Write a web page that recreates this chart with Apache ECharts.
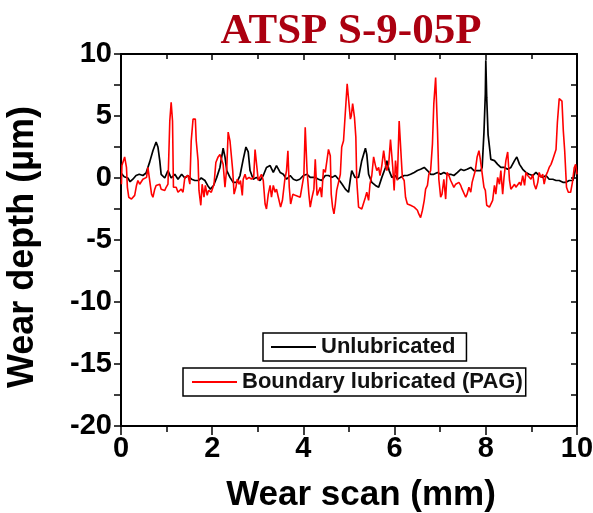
<!DOCTYPE html>
<html>
<head>
<meta charset="utf-8">
<script src="https://cdn.jsdelivr.net/npm/echarts@6/dist/echarts.min.js"></script>
<style>
  html, body { margin: 0; padding: 0; background: #fff; }
  #chart { width: 593px; height: 513px; }
</style>
</head>
<body>
<div id="chart"></div>
<script>
// wear scan profiles (x in mm, depth in µm)
var unlubX = [0.00,0.07,0.15,0.20,0.26,0.33,0.40,0.48,0.55,0.63,0.70,0.77,0.81,0.85,0.88,0.96,1.03,1.10,1.18,1.25,1.33,1.40,1.47,1.55,1.62,1.70,1.76,1.84,1.90,1.96,
  2.03,2.10,2.17,2.24,2.28,2.32,2.39,2.46,2.54,2.61,2.68,2.74,2.79,2.83,2.90,2.97,3.05,3.12,3.19,3.27,3.34,3.41,3.49,3.56,3.63,3.71,3.78,3.85,3.92,4.00,
  4.08,4.15,4.26,4.33,4.40,4.48,4.55,4.63,4.70,4.77,4.85,4.92,4.99,5.03,5.06,5.13,5.21,5.28,5.36,5.39,5.43,5.50,5.58,5.65,5.72,5.80,5.83,5.88,5.94,6.02,
  6.06,6.13,6.21,6.28,6.35,6.43,6.50,6.57,6.65,6.72,6.79,6.86,6.94,7.01,7.08,7.15,7.23,7.30,7.38,7.45,7.52,7.59,7.67,7.74,7.81,7.89,7.92,7.96,7.99,8.00,
  8.02,8.05,8.09,8.11,8.19,8.26,8.33,8.41,8.48,8.55,8.63,8.68,8.74,8.81,8.88,8.95,9.03,9.10,9.17,9.25,9.32,9.39,9.47,9.54,9.61,9.69,9.76,9.83,9.91,9.94,9.98];
var unlubY = [0.4,0.1,0.0,-0.3,-0.1,0.2,0.3,0.2,0.4,1.3,2.2,2.9,2.5,1.4,0.3,0.0,0.6,0.0,0.3,-0.1,0.3,0.0,0.2,-0.1,-0.2,-0.2,0.0,-0.2,-0.6,-0.9,
  -0.6,0.05,0.85,2.4,1.7,0.6,0.05,-0.35,-0.35,0.2,1.5,2.5,2.1,0.6,-0.1,0.05,-0.2,0.2,0.85,1.0,0.45,1.0,0.45,0.3,-0.1,0.2,-0.1,-0.2,-0.1,0.2,
  0.3,0.05,0.05,-0.1,-0.2,0.2,0.2,0.05,0.2,-0.1,-0.5,-0.9,-1.15,-0.1,0.6,0.05,0.05,1.4,2.4,1.9,0.3,-0.35,-0.6,-0.75,0.05,0.85,1.4,0.6,0.05,0.2,
  -0.1,0.05,0.2,0.2,0.3,0.45,0.6,0.7,0.85,0.6,0.3,0.3,0.45,0.3,0.45,0.3,0.3,0.2,0.45,0.7,0.6,0.7,0.85,0.6,0.6,0.6,0.85,3.7,6.8,9.5,
  6.5,3.5,2.2,1.5,1.4,1.1,0.85,0.85,0.7,0.85,1.4,1.7,1.1,0.7,0.45,0.3,0.2,0.45,0.2,0.05,0.2,-0.1,-0.1,-0.2,-0.2,-0.35,-0.35,-0.2,-0.2,0.2,1.0];

var pagX = [0.01,0.02,0.08,0.12,0.14,0.17,0.23,0.30,0.34,0.37,0.41,0.48,0.56,0.59,0.63,0.67,0.70,0.74,0.77,0.81,0.85,0.88,0.92,0.96,0.99,1.03,1.07,1.10,1.13,1.15,
  1.18,1.21,1.25,1.29,1.32,1.36,1.40,1.43,1.47,1.51,1.54,1.58,1.63,1.65,1.69,1.71,1.75,1.78,1.82,1.85,1.89,1.92,1.98,2.01,2.04,2.08,2.13,2.17,2.21,2.24,
  2.28,2.32,2.35,2.39,2.42,2.45,2.48,2.52,2.55,2.59,2.62,2.66,2.68,2.72,2.75,2.81,2.86,2.91,2.94,2.98,3.01,3.05,3.08,3.12,3.16,3.19,3.23,3.27,3.30,3.34,
  3.38,3.41,3.45,3.50,3.54,3.59,3.63,3.66,3.69,3.72,3.77,3.82,3.86,3.93,3.97,4.01,4.04,4.08,4.12,4.15,4.19,4.23,4.26,4.30,4.33,4.37,4.40,4.44,4.48,4.52,
  4.55,4.59,4.61,4.64,4.67,4.70,4.73,4.77,4.81,4.84,4.88,4.92,4.96,4.99,5.03,5.05,5.08,5.12,5.15,5.17,5.21,5.24,5.28,5.31,5.36,5.39,5.43,5.46,5.50,5.54,
  5.58,5.61,5.65,5.68,5.72,5.76,5.80,5.83,5.87,5.91,5.96,5.99,6.02,6.06,6.10,6.13,6.17,6.21,6.24,6.28,6.32,6.35,6.39,6.43,6.46,6.50,6.53,6.57,6.61,6.65,
  6.68,6.72,6.75,6.79,6.83,6.86,6.90,6.94,6.97,7.01,7.04,7.08,7.12,7.15,7.19,7.23,7.26,7.30,7.34,7.37,7.41,7.45,7.48,7.52,7.56,7.59,7.63,7.67,7.70,7.74,
  7.77,7.81,7.85,7.88,7.92,7.96,7.99,8.02,8.04,8.08,8.11,8.15,8.19,8.22,8.26,8.30,8.33,8.37,8.40,8.44,8.48,8.52,8.55,8.59,8.63,8.66,8.70,8.74,8.77,8.81,
  8.85,8.88,8.92,8.95,8.99,9.03,9.06,9.10,9.14,9.17,9.21,9.25,9.28,9.32,9.35,9.39,9.43,9.46,9.50,9.54,9.57,9.61,9.67,9.70,9.73,9.77,9.81,9.86,9.90,9.94,
  9.97,10.00];
var pagY = [-0.5,1.0,1.7,0.85,-0.75,-1.55,-1.7,-1.4,-0.6,-0.2,-0.5,-0.1,0.05,0.85,1.0,-1.3,-1.55,-0.9,-0.6,-0.75,-0.5,-0.9,-0.75,-1.0,-0.75,-0.5,4.6,6.1,4.6,-0.75,
  -0.6,-0.75,-1.15,-1.3,-0.9,-1.15,0.05,0.2,0.2,-0.5,3.0,4.75,4.75,3.0,1.4,-1.0,-2.2,-0.5,-1.55,-0.6,-1.4,-1.0,-1.15,-1.15,-0.5,1.25,1.7,1.9,1.8,1.1,
  -0.75,0.85,3.7,3.0,3.0,0.6,-1.3,-0.75,-0.1,-0.5,-0.2,-1.4,-0.1,0.3,-0.1,0.05,-0.1,0.05,2.3,2.3,-0.2,-0.35,0.3,-0.2,-2.1,-2.5,-1.3,-0.6,-1.55,-0.6,
  -1.15,-0.9,-1.55,-2.35,-1.8,-0.2,0.6,2.2,-0.75,-2.1,-1.3,-1.4,-1.3,-1.55,-1.7,0.2,4.1,0.6,-1.3,-2.35,-1.55,-0.9,1.5,-1.4,-1.3,-0.75,-1.55,0.7,0.45,0.6,
  2.3,1.8,-1.3,-2.35,-2.9,-2.1,-1.0,-0.35,0.3,2.5,3.0,3.1,7.6,7.6,4.75,5.0,6.0,4.9,3.3,-0.2,-2.35,-2.5,-2.5,-2.35,-1.55,-1.15,-1.8,-0.5,0.2,1.7,
  1.0,0.6,0.85,0.2,1.0,2.2,1.1,0.6,1.1,3.1,0.85,-1.0,1.4,-0.2,4.6,4.75,0.05,-0.2,-1.55,-2.1,-2.0,-2.2,-2.1,-2.35,-2.5,-2.6,-2.9,-3.2,-2.6,-1.8,
  -0.9,-0.6,0.3,0.6,2.75,6.0,8.1,3.95,-0.1,-1.55,-1.3,-0.1,-1.7,0.45,0.2,-0.2,-0.35,-0.75,-0.5,-0.6,-0.35,-0.6,-0.9,-1.0,-1.55,-1.3,-0.75,-1.15,-0.35,-0.5,
  0.6,1.7,2.2,1.5,1.4,-0.75,-1.0,-2.2,-2.1,-2.35,-2.2,-1.8,-0.6,-1.3,0.05,-0.5,0.6,-1.3,0.05,1.4,2.1,-0.2,-0.9,-0.75,-0.5,-0.75,-0.6,-0.35,-0.6,0.2,
  -0.6,0.45,0.2,0.3,-0.1,0.3,-0.5,-0.9,-0.35,0.45,0.05,0.3,-0.5,0.2,0.45,0.85,1.1,1.4,1.5,2.3,4.5,6.4,6.2,3.8,2.2,-0.75,-1.15,-1.15,-0.35,0.85,
  1.1,0.3];

var seriesNames = ['Unlubricated', 'Boundary lubricated (PAG)'];
var xTicks = [0, 10, 2];     // min, max, interval
var yTicks = [-20, 10, 5];

function pairs(xs, ys) {
  var out = [];
  for (var i = 0; i < xs.length; i++) out.push([xs[i], ys[i]]);
  return out;
}

var sans = '"Liberation Sans", Arial, sans-serif';
var myChart = echarts.init(document.getElementById('chart'));

var baseAxis = {
  axisLine: { show: true, onZero: false, lineStyle: { color: '#000', width: 2 } },
  splitLine: { show: false }
};

var option = {
  animation: false,
  backgroundColor: '#fff',
  title: {
    text: 'ATSP S-9-05P',
    left: 346,
    textAlign: 'center',
    top: 5,
    textStyle: { fontFamily: '"Liberation Serif", "Times New Roman", serif', fontWeight: 'bold', fontSize: 43, color: '#ab0010' }
  },
  grid: { left: 121, right: 16, top: 54, bottom: 87, outerBoundsMode: 'none', containLabel: false },
  legend: [
    {
      data: [seriesNames[0]],
      left: 263, top: 333,
      padding: [3, 11, 3, 8],
      borderColor: '#000', borderWidth: 1.5,
      icon: 'rect',
      itemWidth: 45, itemHeight: 2, itemGap: 0,
      textStyle: { fontFamily: sans, fontWeight: 'bold', fontSize: 22, color: '#111' }
    },
    {
      data: [seriesNames[1]],
      left: 183, top: 368,
      padding: [3, 3, 3, 9],
      borderColor: '#000', borderWidth: 1.5,
      icon: 'rect',
      itemWidth: 45, itemHeight: 2, itemGap: 0,
      textStyle: { fontFamily: sans, fontWeight: 'bold', fontSize: 22, color: '#111' }
    }
  ],
  xAxis: [
    Object.assign({}, baseAxis, {
      type: 'value', position: 'bottom',
      min: xTicks[0], max: xTicks[1], interval: xTicks[2],
      name: 'Wear scan (mm)', nameLocation: 'middle', nameGap: 52,
      nameTextStyle: { fontFamily: sans, fontWeight: 'bold', fontSize: 35, color: '#000', padding: [0, 0, 0, 24] },
      axisTick: { show: true, inside: false, length: 9, lineStyle: { color: '#000', width: 1.5 } },
      minorTick: { show: true, splitNumber: 2, length: 6, lineStyle: { color: '#000', width: 1.5 } },
      axisLabel: { margin: 8, fontFamily: sans, fontWeight: 'bold', fontSize: 29, color: '#000' }
    }),
    Object.assign({}, baseAxis, {
      type: 'value', position: 'top',
      min: xTicks[0], max: xTicks[1], interval: xTicks[2],
      axisTick: { show: true, inside: true, length: 6, lineStyle: { color: '#000', width: 1.5 } },
      minorTick: { show: true, splitNumber: 2, length: 5, lineStyle: { color: '#000', width: 1.5 } },
      axisLabel: { show: false }
    })
  ],
  yAxis: [
    Object.assign({}, baseAxis, {
      type: 'value', position: 'left',
      min: yTicks[0], max: yTicks[1], interval: yTicks[2],
      name: 'Wear depth (µm)', nameLocation: 'middle', nameGap: 80,
      nameTextStyle: { fontFamily: sans, fontWeight: 'bold', fontSize: 36, color: '#000', padding: [0, 14, 0, 0] },
      axisTick: { show: true, inside: false, length: 7, lineStyle: { color: '#000', width: 1.5 } },
      minorTick: { show: true, splitNumber: 2, length: 7, lineStyle: { color: '#000', width: 1.5 } },
      axisLabel: { margin: 9, fontFamily: sans, fontWeight: 'bold', fontSize: 29, color: '#000' }
    }),
    Object.assign({}, baseAxis, {
      type: 'value', position: 'right',
      min: yTicks[0], max: yTicks[1], interval: yTicks[2],
      axisTick: { show: true, inside: true, length: 6, lineStyle: { color: '#000', width: 1.5 } },
      minorTick: { show: true, splitNumber: 2, length: 6, lineStyle: { color: '#000', width: 1.5 } },
      axisLabel: { show: false }
    })
  ],
  series: [
    {
      name: seriesNames[0],
      type: 'line',
      symbol: 'none',
      data: pairs(unlubX, unlubY),
      lineStyle: { color: '#000', width: 1.7 },
      itemStyle: { color: '#000' }
    },
    {
      name: seriesNames[1],
      type: 'line',
      symbol: 'none',
      data: pairs(pagX, pagY),
      lineStyle: { color: '#ff0000', width: 1.6 },
      itemStyle: { color: '#ff0000' }
    }
  ]
};
myChart.setOption(option);
</script>
</body>
</html>
